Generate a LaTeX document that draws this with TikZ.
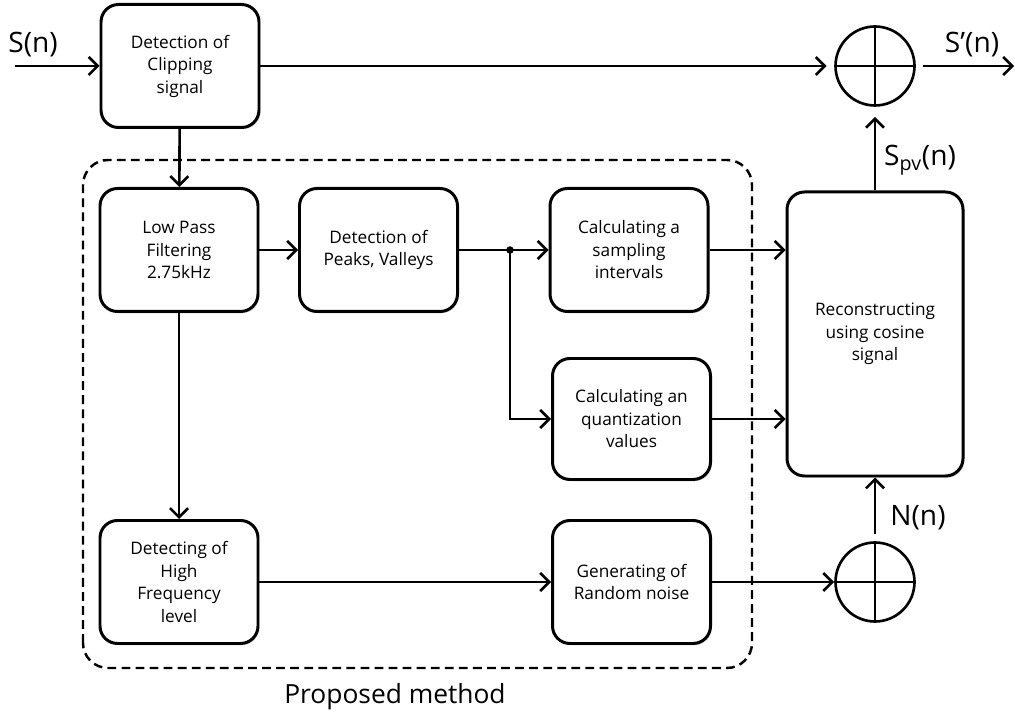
\documentclass[tikz,border=0pt]{standalone}
\usepackage{fontspec}
\setmainfont{Open Sans}
\usetikzlibrary{positioning}
\usetikzlibrary{arrows.meta, shadows}

\begin{document}
\begin{tikzpicture}[
  block/.style={rectangle, rounded corners=0.35cm, draw=black, line width=1.7pt, fill=white, align=center,
    font=\fontsize{9.8}{12.8}\selectfont, minimum width=3.16cm, minimum height=2.46cm,
    drop shadow={shadow xshift=0.8pt, shadow yshift=-1pt, opacity=0.35}},
  sum/.style={circle, draw=black, line width=1.5pt, minimum size=1.58cm, inner sep=0pt,
    path picture={\draw[line width=1.5pt] (path picture bounding box.north) -- (path picture bounding box.south)
      (path picture bounding box.west) -- (path picture bounding box.east);}},
  flow/.style={line width=1.5pt, -{Straight Barb[length=1.8mm, width=3.6mm]}},
  sig/.style={font=\fontsize{16}{18}\selectfont},
]
\useasboundingbox (0,0) rectangle (20.3,14.38);

% proposed method frame
\draw[line width=1.4pt, dash pattern=on 5pt off 3pt, rounded corners=0.5cm] (1.66,1.02) rectangle (15.04,11.18);
\node[font=\fontsize{15}{17}\selectfont] (pm) at (7.9,0.44) {Proposed method};

% blocks
\node[block] (clip) at (3.6,13.06) {Detection of\\Clipping\\signal};
\node[block] (lpf) at (3.58,9.38) {Low Pass\\Filtering\\2.75kHz};
\node[block] (peak) at (7.57,9.38) {Detection of\\Peaks, Valleys};
\node[block] (samp) at (12.58,9.38) {Calculating a\\sampling\\intervals};
\node[block, minimum height=2.42cm] (quant) at (12.63,6.0) {Calculating an\\quantization\\values};
\node[block] (hf) at (3.58,2.74) {Detecting of\\High\\Frequency\\level};
\node[block] (noise) at (12.63,2.74) {Generating of\\Random noise};
\node[block, minimum width=3.52cm, minimum height=5.68cm] (rec) at (17.5,7.7) {Reconstructing\\using cosine\\signal};

% adders
\node[sum] (sumtop) at (17.5,13.06) {};
\node[sum] (sumbot) at (17.5,2.74) {};

% signal labels
\coordinate (in) at (0.3,13.06);
\coordinate (out) at (20.28,13.06);
\node[sig] (sn) at (0.66,13.48) {S(n)};
\node[sig] (spn) at (19.44,13.48) {S’(n)};
\node[sig] (spv) at (18.4,11.18) {S\textsubscript{pv}(n)};
\node[sig] (nn) at (18.36,4.02) {N(n)};

% connections
\draw[flow] (in) -- (clip);
\draw[flow, shorten >=1.5mm] (clip) -- (sumtop);
\draw[flow, shorten <=1.5mm] (sumtop) -- (out);
\draw[flow] (clip) -- (lpf);
\draw[flow] (lpf) -- (peak);
\draw[flow] (lpf) -- (hf);
\coordinate (br) at (10.2,9.38);
\fill (br) circle (0.075);
\draw[flow] (peak) -- (samp);
\draw[flow] (br) |- (quant);
\draw[flow] (samp.east) -- (samp.east -| rec.west);
\draw[flow] (quant.east) -- (quant.east -| rec.west);
\draw[flow] (hf) -- (noise);
\draw[flow] (noise) -- (sumbot);
\draw[flow, shorten <=1.5mm] (sumbot) -- (rec);
\draw[flow, shorten >=2mm] (rec) -- (sumtop);

\end{tikzpicture}
\end{document}
